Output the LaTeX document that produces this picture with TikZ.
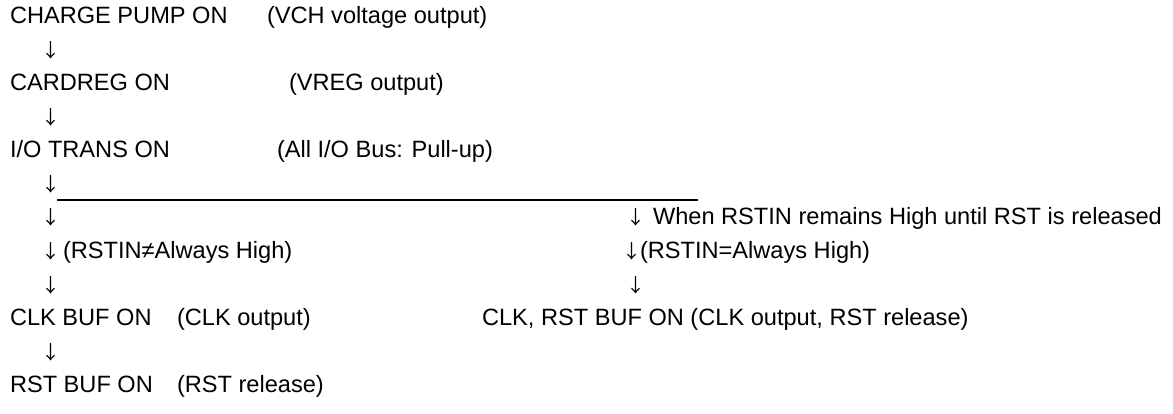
\documentclass[tikz,border=0pt]{standalone}
\usepackage{fontspec}
\setmainfont{Liberation Sans}
\newfontfamily\arrfont{Noto Sans CJK JP}
\begin{document}
\begin{tikzpicture}[x=1pt,y=-1pt,
  txt/.style={anchor=base west,inner sep=0pt,outer sep=0pt,font=\fontsize{23.6}{28}\selectfont},
  arr/.style={anchor=base,inner sep=0pt,outer sep=0pt,font=\arrfont\fontsize{19}{24}\selectfont},
  rule/.style={line width=1.6pt,draw=black}]
\useasboundingbox (0,0) rectangle (1173,414);
% row 0
\node[txt] (cp) at (10,24) {CHARGE PUMP ON};
\node[txt] (cpn) at (267,24) {(VCH voltage output)};
\node[arr] (a1) at (51,57.5) {↓};
% row 2
\node[txt] (cr) at (10,91) {CARDREG ON};
\node[txt] (crn) at (289,91) {(VREG output)};
\node[arr] (a3) at (51,124.5) {↓};
% row 4
\node[txt] (io) at (10,158) {I/O TRANS ON};
\node[txt] (ion) at (277,158) {(All I/O Bus: Pull-up)};
\node[arr] (a5) at (51,191.5) {↓};
\coordinate (ls) at (57,200);
\coordinate (le) at (698,200);
\draw[rule] (ls) -- (le);
% row 6
\node[arr] (a6) at (51,225) {↓};
\node[arr] (b6) at (636,225) {↓};
\node[txt] (b6n) at (653,225) {When RSTIN remains High until RST is released};
% row 7
\node[arr] (a7) at (51,258.5) {↓};
\node[txt] (a7n) at (63,258.5) {(RSTIN≠Always High)};
\node[arr] (b7) at (632,258.5) {↓};
\node[txt] (b7n) at (640,258.5) {(RSTIN=Always High)};
% row 8
\node[arr] (a8) at (51,292) {↓};
\node[arr] (b8) at (636,292) {↓};
% row 9
\node[txt] (clk) at (10,325.5) {CLK BUF ON};
\node[txt] (clkn) at (177,325.5) {(CLK output)};
\node[txt] (crst) at (482,325.5) {CLK, RST BUF ON (CLK output, RST release)};
\node[arr] (a10) at (51,359) {↓};
% row 11
\node[txt] (rst) at (10,392.5) {RST BUF ON};
\node[txt] (rstn) at (177,392.5) {(RST release)};
\end{tikzpicture}
\end{document}
